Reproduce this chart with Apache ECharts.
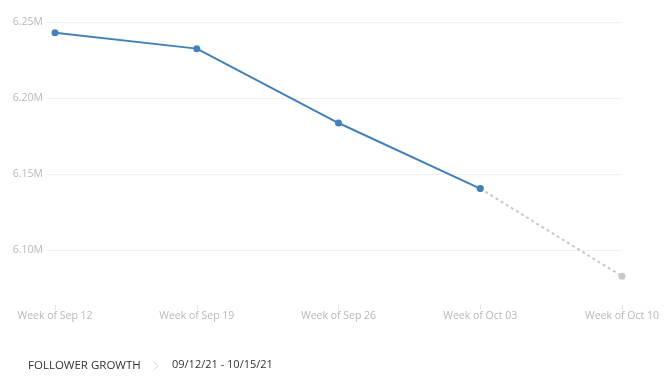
<!DOCTYPE html>
<html>
<head>
<meta charset="utf-8">
<script src="https://cdn.jsdelivr.net/npm/echarts@6/dist/echarts.min.js"></script>
<style>
html,body{margin:0;padding:0;background:#fff;}
#chart{width:669px;height:390px;}
</style>
</head>
<body>
<div id="chart"></div>
<script>
var categories = ['Week of Sep 12', 'Week of Sep 19', 'Week of Sep 26', 'Week of Oct 03', 'Week of Oct 10'];
var actualValues = [6.2430, 6.2325, 6.1836, 6.1405, null];
var projectedValues = [null, null, null, 6.1405, 6.0829];
var yMin = 6.064;
var yMax = 6.25;
var titleText = 'FOLLOWER GROWTH';
var rangeText = '09/12/21 - 10/15/21';

var font = '"Segoe UI", "Open Sans", "Noto Sans", sans-serif';
function isNice(v){ var r = Math.round(v / 0.05) * 0.05; return Math.abs(r - v) < 1e-6; }

var chart = echarts.init(document.getElementById('chart'));
chart.setOption({
  animation: false,
  grid: [
    {left: 46, right: 47, top: 22, bottom: 85},
    {left: 55, right: 47, top: 22, bottom: 85}
  ],
  xAxis: [
    {gridIndex: 0, type: 'category', data: categories, show: false, boundaryGap: false},
    {gridIndex: 1, type: 'category', data: categories, boundaryGap: false,
      axisLine: {show: false},
      axisTick: {show: true, length: 5, alignWithLabel: true, lineStyle: {color: '#e6e6e6'}},
      axisLabel: {color: '#b8b8b8', fontSize: 10.5, fontFamily: font, margin: 6}
    }
  ],
  yAxis: [
    {gridIndex: 0, type: 'value', min: yMin, max: yMax, splitNumber: 4,
      axisLine: {show: false}, axisTick: {show: false},
      axisLabel: {color: '#b8b8b8', fontSize: 10.5, fontFamily: font, margin: 3,
        showMinLabel: false,
        formatter: function(v){ return isNice(v) ? v.toFixed(2) + 'M' : ''; }},
      splitLine: {show: true, showMinLine: false, lineStyle: {color: '#f0f0f0', width: 1}}
    },
    {gridIndex: 1, type: 'value', min: yMin, max: yMax, show: false, splitLine: {show: false}}
  ],
  series: [
    {
      type: 'line', xAxisIndex: 1, yAxisIndex: 1, data: projectedValues,
      symbol: 'circle', symbolSize: 7, showSymbol: true,
      lineStyle: {color: '#c8c8c8', width: 2, type: [3, 3]},
      itemStyle: {color: '#c8c8c8'}, z: 2
    },
    {
      type: 'line', xAxisIndex: 1, yAxisIndex: 1, data: actualValues,
      symbol: 'circle', symbolSize: 7,
      lineStyle: {color: '#4480b8', width: 2},
      itemStyle: {color: '#4480b8'}, z: 3
    }
  ],
  graphic: [
    {type: 'text', left: 28, top: 360, style: {text: titleText, fill: '#333333', font: '11.5px ' + font}},
    {type: 'polyline', shape: {points: [[153.5, 361.5], [158, 366], [153.5, 370.5]]}, style: {stroke: '#d4d4d4', lineWidth: 1, fill: null}},
    {type: 'text', left: 172, top: 359, style: {text: rangeText, fill: '#333333', font: '11px ' + font}}
  ]
});
</script>
</body>
</html>
